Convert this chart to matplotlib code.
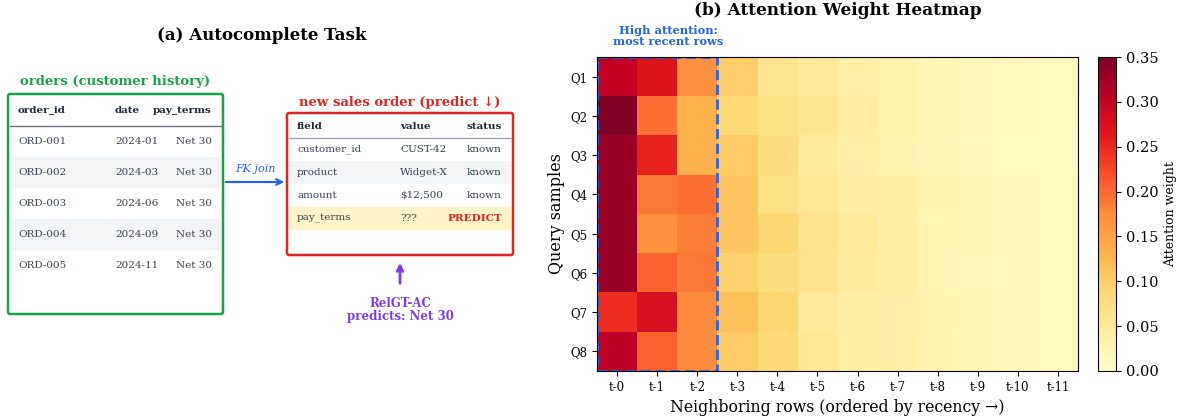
import matplotlib
matplotlib.use("Agg")
import matplotlib.pyplot as plt
from matplotlib.patches import FancyBboxPatch, Rectangle
import numpy as np

plt.rcParams["font.family"] = ["DejaVu Serif"]

W, H = 1177, 419

# ---- data ----
orders_cols = ["order_id", "date", "pay_terms"]
orders_rows = [
    ["ORD-001", "2024-01", "Net 30"],
    ["ORD-002", "2024-03", "Net 30"],
    ["ORD-003", "2024-06", "Net 30"],
    ["ORD-004", "2024-09", "Net 30"],
    ["ORD-005", "2024-11", "Net 30"],
]
new_cols = ["field", "value", "status"]
new_rows = [
    ["customer_id", "CUST-42", "known"],
    ["product", "Widget-X", "known"],
    ["amount", "$12,500", "known"],
    ["pay_terms", "???", "PREDICT"],
]

queries = ["Q1", "Q2", "Q3", "Q4", "Q5", "Q6", "Q7", "Q8"]
neighbors = ["t-0", "t-1", "t-2", "t-3", "t-4", "t-5", "t-6", "t-7", "t-8", "t-9", "t-10", "t-11"]
attn = np.array([
    [0.300, 0.270, 0.170, 0.100, 0.062, 0.050, 0.036, 0.032, 0.024, 0.020, 0.016, 0.014],
    [0.350, 0.195, 0.130, 0.085, 0.072, 0.060, 0.042, 0.032, 0.022, 0.020, 0.016, 0.012],
    [0.330, 0.255, 0.130, 0.105, 0.076, 0.046, 0.036, 0.030, 0.022, 0.018, 0.014, 0.012],
    [0.330, 0.190, 0.195, 0.110, 0.070, 0.056, 0.042, 0.040, 0.030, 0.024, 0.018, 0.014],
    [0.330, 0.170, 0.185, 0.110, 0.090, 0.065, 0.050, 0.040, 0.026, 0.022, 0.018, 0.014],
    [0.330, 0.205, 0.190, 0.095, 0.076, 0.065, 0.046, 0.040, 0.026, 0.020, 0.018, 0.014],
    [0.245, 0.275, 0.175, 0.115, 0.090, 0.050, 0.040, 0.035, 0.030, 0.022, 0.018, 0.014],
    [0.305, 0.205, 0.175, 0.105, 0.085, 0.055, 0.040, 0.036, 0.028, 0.022, 0.018, 0.014],
])

GREEN = "#16a34a"
RED = "#dc2626"
BLUE = "#2563eb"
PURPLE = "#7c3aed"
DARK = "#1f2937"
TXT = "#374151"

fig = plt.figure(figsize=(W / 100, H / 100), dpi=100)

# ---- (a) schematic, in pixel coordinates ----
axl = fig.add_axes([0, 0, 540 / W, 1])
axl.set_xlim(0, 540)
axl.set_ylim(H, 0)
axl.axis("off")
axl.text(262, 36, "(a) Autocomplete Task", ha="center", va="center",
         fontsize=12, fontweight="bold")

# orders table
axl.add_patch(FancyBboxPatch((8, 94), 215, 220, boxstyle="round,pad=0,rounding_size=2",
                             fc="white", ec=GREEN, lw=1.8))
axl.text(115, 82, "orders (customer history)", ha="center", va="center",
         color=GREEN, fontsize=9.5, fontweight="bold")
ocx = [18, 115, 212]
oha = ["left", "left", "right"]
for x, h, c in zip(ocx, oha, orders_cols):
    axl.text(x, 110, c, ha=h, va="center", fontsize=7.5, fontweight="bold", color=DARK)
axl.plot([10, 221], [126, 126], color="#6b7280", lw=1)
for i, row in enumerate(orders_rows):
    y = 141 + 31 * i
    if i % 2 == 1:
        axl.add_patch(Rectangle((10, y - 15.5), 211, 31, fc="#f3f4f6", ec="none"))
    for x, h, v in zip(ocx, oha, row):
        axl.text(x, y, v, ha=h, va="center", fontsize=7.5, color=TXT)

# FK join arrow
axl.annotate("", xy=(287, 182), xytext=(223, 182),
             arrowprops=dict(arrowstyle="->", color=BLUE, lw=1.6))
axl.text(255, 169, "FK join", ha="center", va="center", color=BLUE,
         fontsize=8, fontstyle="italic")

# new sales order table
axl.add_patch(FancyBboxPatch((287, 113), 226, 142, boxstyle="round,pad=0,rounding_size=2",
                             fc="white", ec=RED, lw=1.8))
axl.text(400, 102, "new sales order (predict \u2193)", ha="center", va="center",
         color=RED, fontsize=9.5, fontweight="bold")
ncx = [297, 400, 502]
nha = ["left", "left", "right"]
for x, h, c in zip(ncx, nha, new_cols):
    axl.text(x, 126, c, ha=h, va="center", fontsize=7.5, fontweight="bold", color=DARK)
axl.plot([289, 511], [138, 138], color="#9ca3af", lw=1)
for i, row in enumerate(new_rows):
    y = 149 + 23 * i
    if row[2] == "PREDICT":
        axl.add_patch(Rectangle((289, y - 11.5), 222, 23, fc="#fef3c7", ec="none"))
    elif i % 2 == 1:
        axl.add_patch(Rectangle((289, y - 11.5), 222, 23, fc="#f3f4f6", ec="none"))
    for x, h, v in zip(ncx, nha, row):
        if v == "PREDICT":
            axl.text(x, y, v, ha=h, va="center", fontsize=7.5, color=RED, fontweight="bold")
        else:
            axl.text(x, y, v, ha=h, va="center", fontsize=7.5, color=TXT)

axl.annotate("", xy=(400, 260), xytext=(400, 286),
             arrowprops=dict(arrowstyle="->", color=PURPLE, lw=2))
axl.text(400, 310, "RelGT-AC\npredicts: Net 30", ha="center", va="center",
         color=PURPLE, fontsize=8.5, fontweight="bold", linespacing=1.0)

# ---- (b) heatmap ----
axh = fig.add_axes([597 / W, 1 - 371 / H, (1078 - 597) / W, (371 - 57) / H])
im = axh.imshow(attn, cmap="YlOrRd", vmin=0, vmax=0.35, aspect="auto")
axh.set_xticks(range(len(neighbors)))
axh.set_xticklabels(neighbors, fontsize=8.5)
axh.set_yticks(range(len(queries)))
axh.set_yticklabels(queries, fontsize=8.5)
axh.set_xlabel("Neighboring rows (ordered by recency \u2192)", fontsize=11.3)
axh.set_ylabel("Query samples", fontsize=11.5)
axh.set_title("(b) Attention Weight Heatmap", fontsize=12.2, fontweight="bold", pad=30)
axh.add_patch(Rectangle((-0.5, -0.5), 3, len(queries), fill=False, ec=BLUE,
                        lw=2, ls="--"))
axh.text(1.28, -0.75, "High attention:\nmost recent rows", ha="center", va="bottom",
         color=BLUE, fontsize=8.2, fontweight="bold", linespacing=1.05)

cax = fig.add_axes([1098 / W, 1 - 371 / H, 18 / W, (371 - 57) / H])
cb = fig.colorbar(im, cax=cax)
cb.set_ticks(np.arange(0, 0.351, 0.05))
cb.ax.tick_params(labelsize=10.5)
cb.set_label("Attention weight", fontsize=9)

fig.savefig("out.png", dpi=100)
